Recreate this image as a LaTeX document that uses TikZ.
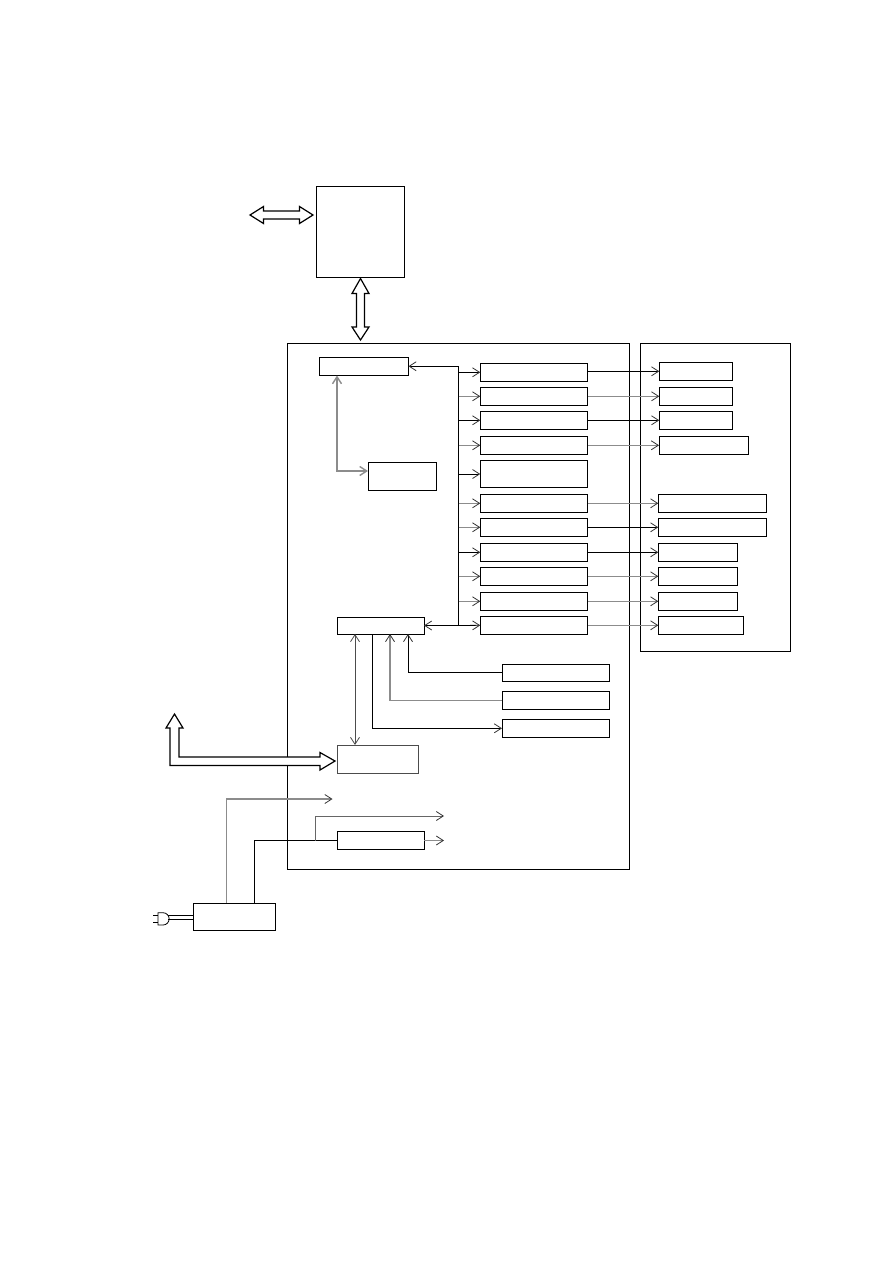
\documentclass[tikz,border=0pt]{standalone}
\usepackage{tikz}
\usetikzlibrary{arrows.meta, calc}

\begin{document}
\begin{tikzpicture}[
    x=1pt, y=-1pt,
    unitbox/.style={rectangle, draw, line width=0.9pt, inner sep=0pt, outer sep=0pt},
    drvbox/.style={unitbox, minimum width=107.5pt, minimum height=18pt},
    link/.style={-{Straight Barb[length=7pt,width=9pt,color=black!80,line width=0.8pt]}, line width=0.8pt},
    dlink/.style={{Straight Barb[length=7pt,width=9pt]}-{Straight Barb[length=7pt,width=9pt]}, line width=0.8pt},
    glink/.style={link, draw=gray!90, line width=1.4pt},
    hollow/.style={draw, line width=1.2pt, fill=white, line join=miter}
]
\useasboundingbox (0,0) rectangle (893,1263);

% ============ HOST ============
\node[unitbox, minimum width=88pt, minimum height=91pt] (host) at (360,231.5) {};

% ============ FRAMES ============
\node[unitbox, minimum width=342pt, minimum height=526pt] (board) at (458,606) {};
\node[unitbox, minimum width=150.5pt, minimum height=308pt] (panel) at (715.25,497) {};

% ============ CONTROL BLOCKS ============
\node[unitbox, minimum width=89.5pt, minimum height=18.5pt] (cpu) at (363.75,366.25) {};
\node[unitbox, minimum width=68.5pt, minimum height=28pt] (mem) at (402.25,476) {};
\node[unitbox, minimum width=87pt, minimum height=17pt] (ctrl) at (380.5,625.5) {};
\node[unitbox, draw=black!70, minimum width=81.5pt, minimum height=28pt] (io) at (377.75,759) {};

% ============ DRIVERS ============
\node[drvbox] (drv1) at (534,372.3) {};
\node[drvbox] (drv2) at (534,396.3) {};
\node[drvbox] (drv3) at (534,420.3) {};
\node[drvbox] (drv4) at (534,445.3) {};
\node[drvbox, minimum height=27.5pt] (drv5) at (534,474) {};
\node[drvbox] (drv6) at (534,503.3) {};
\node[drvbox] (drv7) at (534,527.3) {};
\node[drvbox] (drv8) at (534,552.3) {};
\node[drvbox] (drv9) at (534,576.3) {};
\node[drvbox] (drv10) at (534,601.3) {};
\node[drvbox] (drv11) at (534,625.3) {};

% ============ DEVICES ============
\node[unitbox, minimum width=73.5pt, minimum height=18pt] (dev1) at (696,371.3) {};
\node[unitbox, minimum width=73.5pt, minimum height=18pt] (dev2) at (696,396.3) {};
\node[unitbox, minimum width=73.5pt, minimum height=18pt] (dev3) at (696,420.3) {};
\node[unitbox, minimum width=89pt, minimum height=18pt] (dev4) at (703.5,445.3) {};
\node[unitbox, minimum width=108pt, minimum height=18pt] (dev6) at (712.3,503.3) {};
\node[unitbox, minimum width=108pt, minimum height=18pt] (dev7) at (712.3,527.3) {};
\node[unitbox, minimum width=79pt, minimum height=18pt] (dev8) at (697.8,552.3) {};
\node[unitbox, minimum width=79pt, minimum height=18pt] (dev9) at (697.8,576.3) {};
\node[unitbox, minimum width=79pt, minimum height=18pt] (dev10) at (697.8,601.3) {};
\node[unitbox, minimum width=85pt, minimum height=18pt] (dev11) at (700.8,625.3) {};

% ============ SENSORS ============
\node[unitbox, minimum width=107pt, minimum height=17pt] (sen1) at (555.5,672.5) {};
\node[unitbox, minimum width=107pt, minimum height=18pt] (sen2) at (555.5,700.3) {};
\node[unitbox, minimum width=107pt, minimum height=18pt] (sen3) at (555.5,728.3) {};

% ============ POWER ============
\node[unitbox, line width=0.7pt, minimum width=82pt, minimum height=27pt] (psu) at (234.2,916.5) {};
\node[unitbox, minimum width=87pt, minimum height=17.5pt] (reg) at (380.5,840.5) {};

% ============ ARROWS ============
% Host links
\draw[hollow] ([xshift=-3pt,yshift=16.5pt]host.west) -- ++(-13.5,-8.5) -- ++(0,4.5) -- ++(-36,0)
    -- ++(0,-4.5) -- ++(-13.5,8.5) -- ++(13.5,8.5) -- ++(0,-4.5) -- ++(36,0) -- ++(0,4.5) -- cycle;
\draw[hollow] ([xshift=0.5pt,yshift=-1.5pt]host.south) -- ++(8.5,15) -- ++(-4.5,0) -- ++(0,33.5)
    -- ++(4.5,0) -- ++(-8.5,13) -- ++(-8.5,-13) -- ++(4.5,0) -- ++(0,-33.5) -- ++(-4.5,0) -- cycle;

% Bus
\coordinate (bustop) at (458.5,366.25);
\coordinate (busbot) at (458.5,625.5);
\draw[link] (busbot) -- (bustop) -- (cpu.east);
\draw[link] (busbot) -- (ctrl.east);
\draw[link] (busbot) -- (drv11.west);

% From bus to drivers
\draw[link] (bustop |- drv1.west) -- (drv1.west);
\draw[glink] (bustop |- drv2.west) -- (drv2.west);
\draw[link] (bustop |- drv3.west) -- (drv3.west);
\draw[glink] (bustop |- drv4.west) -- (drv4.west);
\draw[link] (bustop |- drv5.west) -- (drv5.west);
\draw[glink] (bustop |- drv6.west) -- (drv6.west);
\draw[glink] (bustop |- drv7.west) -- (drv7.west);
\draw[link] (bustop |- drv8.west) -- (drv8.west);
\draw[glink] (bustop |- drv9.west) -- (drv9.west);
\draw[glink] (bustop |- drv10.west) -- (drv10.west);

% From drivers to devices
\draw[link] (drv1.east |- dev1.west) -- (dev1.west);
\draw[glink] (drv2.east) -- (dev2.west);
\draw[link] (drv3.east) -- (dev3.west);
\draw[glink] (drv4.east) -- (dev4.west);
\draw[glink] (drv6.east) -- (dev6.west);
\draw[link] (drv7.east) -- (dev7.west);
\draw[link] (drv8.east) -- (dev8.west);
\draw[glink] (drv9.east) -- (dev9.west);
\draw[glink] (drv10.east) -- (dev10.west);
\draw[glink] (drv11.east) -- (dev11.west);

% Memory and I/O
\draw[dlink, draw=gray!90, line width=1.4pt] ([xshift=18pt]cpu.south west) |- ([yshift=5pt]mem.west);
\draw[dlink, draw=black!70] ([xshift=18pt]ctrl.south west) -- ([xshift=18pt]io.north west);
\draw[link] ([xshift=35pt]ctrl.south west) |- (sen3.west);
\draw[glink] (sen2.west) -| ([xshift=53pt]ctrl.south west);
\draw[link] (sen1.west) -| ([xshift=71pt]ctrl.south west);

% External interface
\draw[hollow] ([xshift=-2pt,yshift=-2pt]io.west) -- ++(-15,-8.5) -- ++(0,4.5) -- ++(-141,0)
    -- ++(0,-29) -- ++(4,0) -- ++(-8.5,-14) -- ++(-8.5,14) -- ++(4,0) -- ++(0,37.5)
    -- ++(150,0) -- ++(0,4.5) -- cycle;

% Power supply
\coordinate (pwra) at (332.5,799);
\coordinate (pwrb) at (444,816);
\coordinate (pwrc) at (444,840.5);
\draw[glink] ([xshift=33.5pt]psu.north west) |- (pwra);
\draw[line width=0.8pt] ([xshift=61.5pt]psu.north west) |- (reg.west);
\draw[link, draw=black!60] ([xshift=-22pt]reg.west) |- (pwrb);
\draw[glink] (reg.east) -- (pwrc);

% Plug
\draw[line width=0.7pt] ([yshift=1.5pt]psu.west) -- ++(-25,0);
\draw[line width=0.7pt] ([yshift=-3pt]psu.west) -- ++(-25,0);
\draw[line width=0.8pt] (158,912.7) -- (163,912.7) arc[start angle=-90, end angle=90, radius=6.15] -- (158,925) -- cycle;
\draw[line width=0.8pt] (158,915) -- (152.5,915);
\draw[line width=0.8pt] (158,922.3) -- (152.5,922.3);

\end{tikzpicture}
\end{document}
